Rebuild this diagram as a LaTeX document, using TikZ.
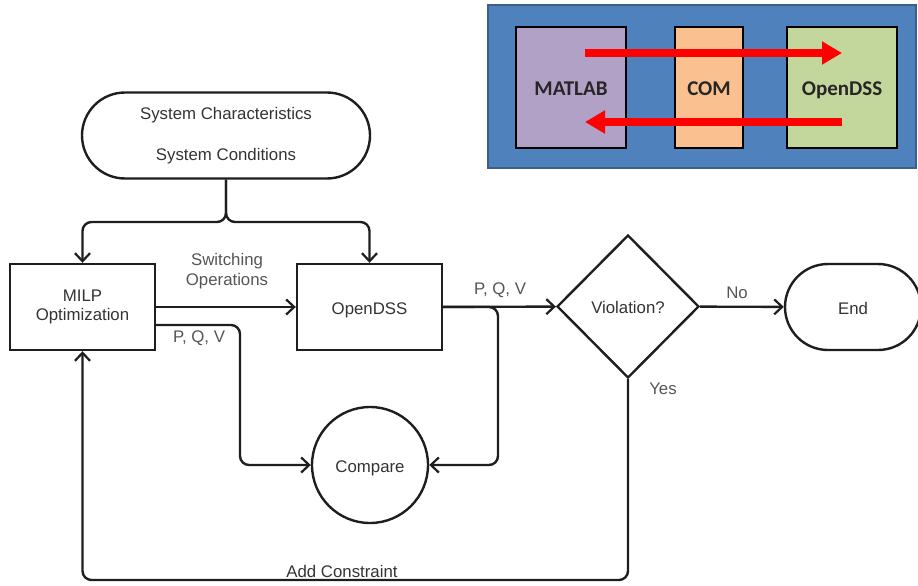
\documentclass[tikz,border=0pt]{standalone}
\usepackage{fontspec}
\setmainfont{Liberation Sans}
\newfontfamily\calfont{Carlito}
\usetikzlibrary{arrows.meta,shapes.misc,shapes.geometric}
\definecolor{panelblue}{HTML}{4F81BD}
\definecolor{panelline}{HTML}{3A5F8C}
\definecolor{mlpurple}{HTML}{B2A1C7}
\definecolor{comorange}{HTML}{FAC090}
\definecolor{dssgreen}{HTML}{C3D69B}
\definecolor{txt}{HTML}{333333}
\definecolor{lbl}{HTML}{555555}
\definecolor{ln}{HTML}{1E1E1E}
\begin{document}
\begin{tikzpicture}[x=1pt,y=-1pt,
  every node/.style={inner sep=0pt},
  base/.style={draw=ln, line width=2.4pt, text=txt, align=center,
    font=\fontsize{16.8}{19.5}\selectfont},
  boxnode/.style={base, rectangle, minimum width=145pt, minimum height=86pt},
  termnode/.style={base, rounded rectangle, minimum height=86pt},
  oneline/.style={text height=17.5pt, text depth=3.5pt},
  flow/.style={draw=ln, line width=2.4pt, rounded corners=9pt,
    -{Straight Barb[length=8pt,width=15pt,line width=2.2pt]}},
  lab/.style={text=lbl, align=center, font=\fontsize{16.8}{19.5}\selectfont},
  inbox/.style={draw=black, line width=2.6pt, minimum height=121pt,
    text height=20pt, text depth=3.5pt,
    font=\calfont\bfseries\fontsize{21}{24}\selectfont, text=black!85},
  redarrow/.style={draw=red, line width=7.5pt, -{Triangle[length=20pt,width=22pt]}}
]
\useasboundingbox (0,0) rectangle (918,586);

% ---- inset panel ----
\node[draw=panelline, fill=panelblue, line width=1.5pt,
  minimum width=428pt, minimum height=163pt] (panel) at (702,86.5) {};
\node[inbox, fill=mlpurple, minimum width=110pt] (matlab) at (571,87.5) {MATLAB};
\node[inbox, fill=comorange, minimum width=68pt] (com) at (709,87.5) {COM};
\node[inbox, fill=dssgreen, minimum width=110pt] (dss) at (842,87.5) {OpenDSS};
\coordinate (r1) at (585,53);
\coordinate (r2) at (842,53);
\coordinate (r3) at (842,122);
\coordinate (r4) at (585,122);
\draw[redarrow] (r1) -- (r2);
\draw[redarrow] (r3) -- (r4);

% ---- flowchart nodes ----
\node[termnode, minimum width=288pt, font=\fontsize{16.8}{41}\selectfont]
  (start) at (226,135.5) {System Characteristics\\System Conditions};
\node[boxnode] (milp) at (82.5,307) {MILP\\Optimization};
\node[boxnode, oneline] (ods) at (369.5,307) {OpenDSS};
\node[base, circle, minimum size=116pt, oneline] (cmp) at (370,465) {Compare};
\node[base, diamond, aspect=1, minimum width=142pt, minimum height=143pt, oneline]
  (viol) at (628,306.5) {Violation?};
\node[termnode, minimum width=136pt, oneline] (endn) at (853,307) {End};

% ---- helper coordinates ----
\coordinate (hb) at (226,222);
\coordinate (k1) at (240,0);
\coordinate (k2) at (498,0);
\coordinate (hb2) at (400,580);

% ---- connectors ----
\draw[flow] (start.south) |- ([xshift=-30pt]hb) -| (milp.north);
\draw[flow] (start.south) |- ([xshift=30pt]hb) -| (ods.north);
\draw[flow] (milp) -- (ods);
\draw[flow] ([yshift=-18pt]milp.east) -| (k1 |- cmp) -- (cmp.west);
\draw[flow] (ods) -- (viol);
\draw[flow] (ods.east) -| (k2 |- cmp) -- (cmp.east);
\draw[flow] (viol) -- (endn);
\draw[flow] (viol.south) |- (hb2) -| (milp.south);

% ---- labels ----
\node[lab] (l1) at (227,271) {Switching\\Operations};
\node[lab] (l2) at (199,338) {P, Q, V};
\node[lab] (l3) at (500,290) {P, Q, V};
\node[lab] (l4) at (737,293) {No};
\node[lab] (l5) at (663,389) {Yes};
\node[lab, text=txt] (l6) at (342,571) {Add Constraint};
\end{tikzpicture}
\end{document}
